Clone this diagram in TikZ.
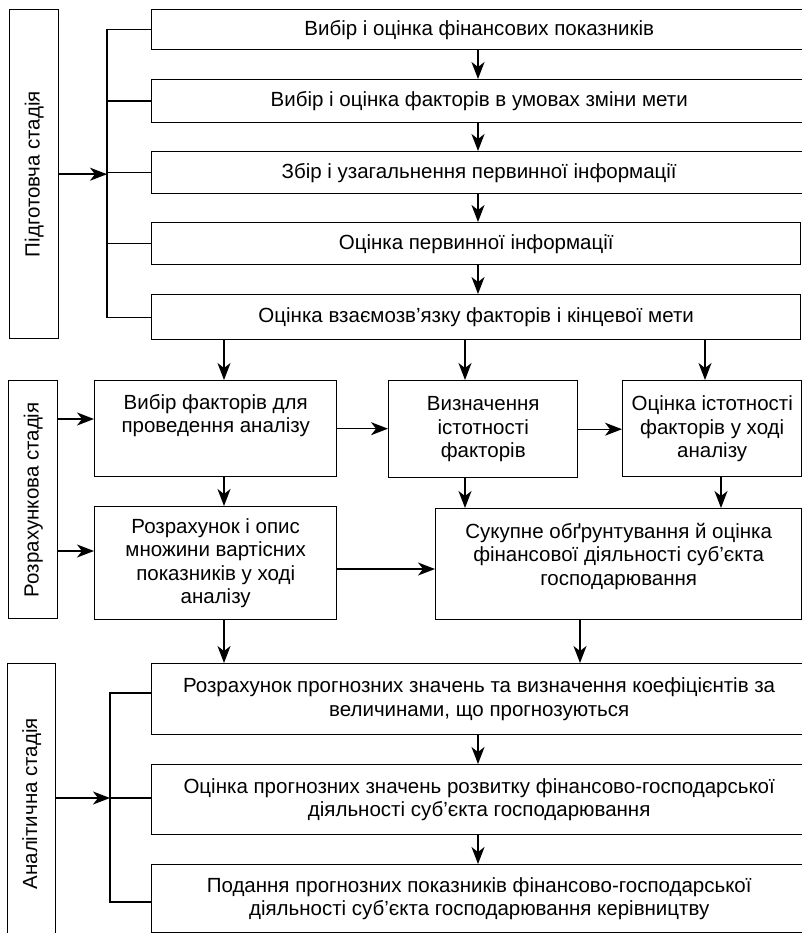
\documentclass[tikz,border=0pt]{standalone}
\usepackage{fontspec}
\setmainfont{Liberation Sans}
\usetikzlibrary{arrows.meta}
\newcommand{\fsz}{\fontsize{20.5pt}{23.5pt}\selectfont}
\begin{document}
\begin{tikzpicture}[x=1pt,y=-1pt,
  line/.style={line width=1.4pt},
  arr/.style={line width=1.4pt,-{Stealth[length=17pt,width=13pt,inset=5pt]}},
  box/.style={draw,line width=1.4pt,anchor=north west,align=center,inner sep=0pt,font=\fsz},
  stagebox/.style={draw,line width=1.4pt,anchor=north west,inner sep=0pt},
  stagelabel/.style={rotate=90,font=\fsz,inner sep=0pt}]
\useasboundingbox (0,0) rectangle (802,933);
% stage boxes
\node[stagebox,minimum width=49pt,minimum height=329pt] (s1) at (9,9) {};
\node[stagelabel] (s1l) at (s1.center) {Підготовча стадія};
\node[stagebox,minimum width=49pt,minimum height=238pt] (s2) at (8,380) {};
\node[stagelabel] (s2l) at (s2.center) {Розрахункова стадія};
\node[stagebox,minimum width=48pt,minimum height=280pt] (s3) at (7,663) {};
\node[stagelabel] (s3l) at (s3.center) {Аналітична стадія};
% top boxes
\node[box,minimum width=655pt,minimum height=40pt] (t1) at (151,9) {Вибір і оцінка фінансових показників};
\node[box,minimum width=655pt,minimum height=43pt] (t2) at (151,79) {Вибір і оцінка факторів в умовах зміни мети};
\node[box,minimum width=655pt,minimum height=42pt] (t3) at (151,151) {Збір і узагальнення первинної інформації};
\node[box,minimum width=649pt,minimum height=42pt] (t4) at (151,222) {Оцінка первинної інформації};
\node[box,minimum width=649pt,minimum height=45pt] (t5) at (151,294) {Оцінка взаємозв’язку факторів і кінцевої мети};
% middle boxes
\node[box,minimum width=242pt,minimum height=96pt] (b6) at (94,380) {Вибір факторів для\\проведення аналізу\\\strut};
\node[box,minimum width=189pt,minimum height=97pt] (b8) at (388,380) {Визначення\\істотності\\факторів};
\node[box,minimum width=179pt,minimum height=96pt] (b9) at (622,380) {Оцінка істотності\\факторів у ході\\аналізу};
\node[box,minimum width=242pt,minimum height=113pt] (b7) at (94,506) {Розрахунок і опис\\множини вартісних\\показників у ході\\аналізу};
\node[box,minimum width=366pt,minimum height=111pt] (b10) at (435,508) {Сукупне обґрунтування й оцінка\\фінансової діяльності суб’єкта\\господарювання\\[-10.5pt]\strut};
% bottom boxes
\node[box,minimum width=655pt,minimum height=71pt] (t11) at (151,663) {Розрахунок прогнозних значень та визначення коефіцієнтів за\\величинами, що прогнозуються};
\node[box,minimum width=655pt,minimum height=70pt] (t12) at (151,764) {Оцінка прогнозних значень розвитку фінансово-господарської\\діяльності суб’єкта господарювання};
\node[box,minimum width=655pt,minimum height=68pt] (t13) at (151,864) {Подання прогнозних показників фінансово-господарської\\діяльності суб’єкта господарювання керівництву};
% helper coordinates
\coordinate (xa) at (478,0);
\coordinate (xl) at (224,0);
\coordinate (xm) at (465,0);
\coordinate (xr) at (705,0);
\coordinate (xr2) at (721,0);
\coordinate (xb) at (580,0);
\coordinate (br1) at (107,0);
\coordinate (br2) at (110,0);
\coordinate (ys2a) at (0,419);
\coordinate (ys2b) at (0,551);
\coordinate (y7) at (0,569);
\coordinate (y11) at (0,693);
\coordinate (y12) at (0,798);
\coordinate (y13) at (0,902);
% bracket 1
\draw[line] (t1.west) -- (t1.west -| br1) -- (t5.west -| br1) -- (t5.west);
\draw[line] (t2.west) -- (t2.west -| br1);
\draw[line] (t3.west) -- (t3.west -| br1);
\draw[line] (t4.west) -- (t4.west -| br1);
\draw[arr] (s1.east) -- (s1.east -| br1);
% top chain
\draw[arr] (t1.south -| xa) -- (t2.north -| xa);
\draw[arr] (t2.south -| xa) -- (t3.north -| xa);
\draw[arr] (t3.south -| xa) -- (t4.north -| xa);
\draw[arr] (t4.south -| xa) -- (t5.north -| xa);
% to middle
\draw[arr] (t5.south -| xl) -- (b6.north -| xl);
\draw[arr] (t5.south -| xm) -- (b8.north -| xm);
\draw[arr] (t5.south -| xr) -- (b9.north -| xr);
\draw[arr] (b6.east) -- (b6.east -| b8.west);
\draw[arr] (b8.east) -- (b8.east -| b9.west);
\draw[arr] (b6.south -| xl) -- (b7.north -| xl);
\draw[arr] (b8.south -| xm) -- (b10.north -| xm);
\draw[arr] (b9.south -| xr2) -- (b10.north -| xr2);
\draw[arr] (b7.east |- y7) -- (b10.west |- y7);
\draw[arr] (s2.east |- ys2a) -- (b6.west |- ys2a);
\draw[arr] (s2.east |- ys2b) -- (b7.west |- ys2b);
% to bottom
\draw[arr] (b7.south -| xl) -- (t11.north -| xl);
\draw[arr] (b10.south -| xb) -- (t11.north -| xb);
% bracket 2
\draw[line] (t11.west |- y11) -- (br2 |- y11) -- (br2 |- y13) -- (t13.west |- y13);
\draw[line] (t12.west |- y12) -- (br2 |- y12);
\draw[arr] (s3.east |- y12) -- (br2 |- y12);
\draw[arr] (t11.south -| xa) -- (t12.north -| xa);
\draw[arr] (t12.south -| xa) -- (t13.north -| xa);
\end{tikzpicture}
\end{document}
